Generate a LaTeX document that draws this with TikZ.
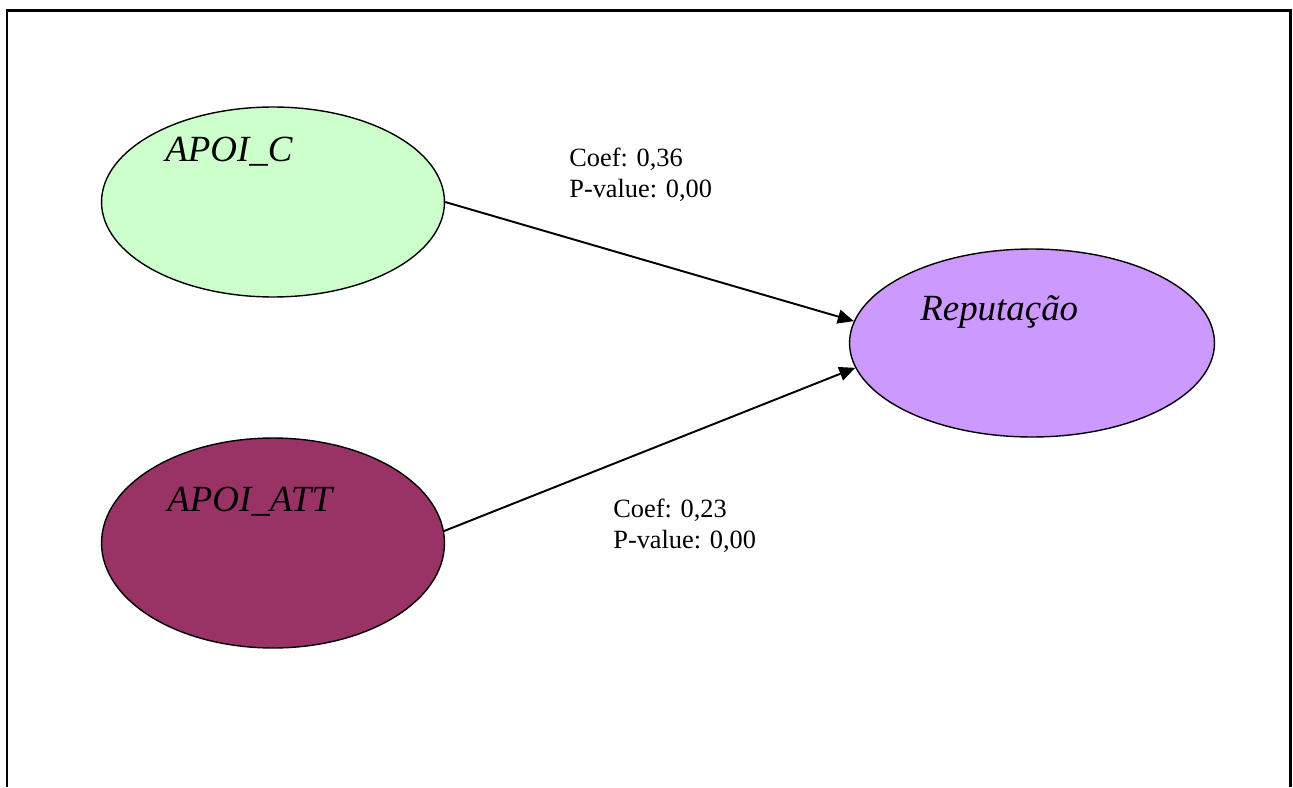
\documentclass[tikz,border=0pt]{standalone}
\usepackage{fontspec}
\setmainfont{Liberation Serif}
\usetikzlibrary{arrows.meta,shapes.geometric}
\definecolor{mint}{HTML}{CCFFCC}
\definecolor{plum}{HTML}{993366}
\definecolor{lilac}{HTML}{CC99FF}
\tikzset{
  >={Triangle[length=3.2mm,width=2.8mm]},
  latent/.style={ellipse,draw=black,fill=#1,line width=0.8pt,inner sep=0pt},
  latent/.default=mint,
  vname/.style={anchor=base west,inner sep=0pt,font=\fontsize{21}{25}\selectfont\itshape},
  stat/.style={anchor=base west,inner sep=0pt,align=left,font=\fontsize{15}{17.5}\selectfont},
  path/.style={->,line width=1.1pt},
}
\begin{document}
\begin{tikzpicture}[x=0.02cm,y=-0.02cm]
  \useasboundingbox (0,0) rectangle (1293,787);
  % frame, open at the bottom
  \draw[line width=0.06cm] (7,787) |- (1290,11) -- (1290,787);
  % constructs
  \node[latent=mint,minimum width=6.86cm,minimum height=3.8cm] (apoic) at (273,202) {};
  \node[latent=plum,minimum width=6.86cm,minimum height=4.2cm] (apoiatt) at (273,543) {};
  \node[latent=lilac,minimum width=7.3cm,minimum height=3.76cm] (rep) at (1032,343) {};
  \node[vname] (apoictxt) at (165,162) {APOI\_C};
  \node[vname] (apoiatttxt) at (167,511) {APOI\_ATT};
  \node[vname] (reptxt) at (920,320) {Reputação};
  % paths
  \draw[path] (apoic.east) -- (rep.173);
  \draw[path] (apoiatt.4) -- (rep.188);
  % base of a two-line node sits on its last line
  \node[stat] (stat1) at (569,197) {Coef: 0,36\\P-value: 0,00};
  \node[stat] (stat2) at (613,548) {Coef: 0,23\\P-value: 0,00};
\end{tikzpicture}
\end{document}
